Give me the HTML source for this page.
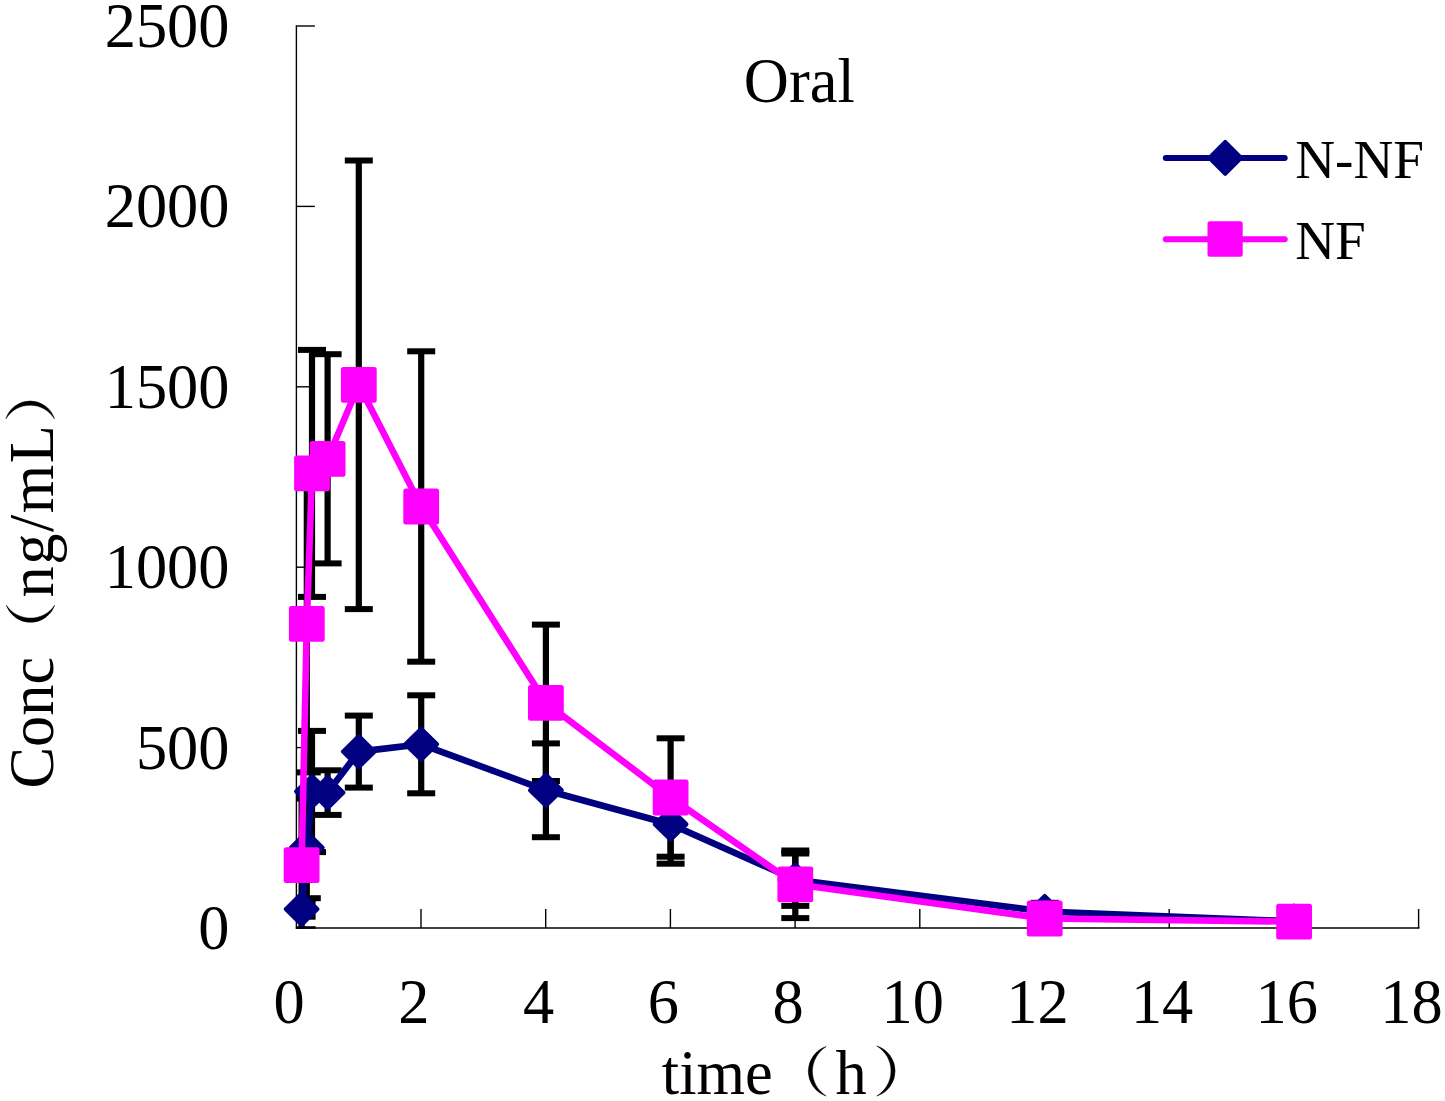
<!DOCTYPE html>
<html><head><meta charset="utf-8"><title>Oral</title>
<style>html,body{margin:0;padding:0;background:#fff;}body{width:1445px;height:1101px;overflow:hidden;}svg{display:block;}text{font-family:"Liberation Serif",serif;fill:#000;}</style>
</head><body>
<svg width="1445" height="1101" viewBox="0 0 1445 1101">
<rect width="1445" height="1101" fill="#fff"/>
<g stroke="#000" stroke-width="1.4" fill="none" shape-rendering="auto">
<line x1="296.4" y1="25.3" x2="296.4" y2="928.7"/>
<line x1="295.8" y1="928.0" x2="1419.5" y2="928.0"/>
<line x1="296.4" y1="747.6" x2="314.9" y2="747.6"/>
<line x1="296.4" y1="567.2" x2="314.9" y2="567.2"/>
<line x1="296.4" y1="386.8" x2="314.9" y2="386.8"/>
<line x1="296.4" y1="206.4" x2="314.9" y2="206.4"/>
<line x1="296.4" y1="26.0" x2="314.9" y2="26.0"/>
<line x1="421.0" y1="909.0" x2="421.0" y2="928.0"/>
<line x1="545.7" y1="909.0" x2="545.7" y2="928.0"/>
<line x1="670.4" y1="909.0" x2="670.4" y2="928.0"/>
<line x1="795.1" y1="909.0" x2="795.1" y2="928.0"/>
<line x1="919.8" y1="909.0" x2="919.8" y2="928.0"/>
<line x1="1044.5" y1="909.0" x2="1044.5" y2="928.0"/>
<line x1="1169.2" y1="909.0" x2="1169.2" y2="928.0"/>
<line x1="1293.9" y1="909.0" x2="1293.9" y2="928.0"/>
<line x1="1418.6" y1="909.0" x2="1418.6" y2="928.0"/>
</g>
<g font-size="62.4" text-anchor="end">
<text x="229.5" y="949.0">0</text>
<text x="229.5" y="768.6">500</text>
<text x="229.5" y="588.2">1000</text>
<text x="229.5" y="407.8">1500</text>
<text x="229.5" y="227.4">2000</text>
<text x="229.5" y="47.0">2500</text>
</g>
<g font-size="62.4" text-anchor="middle">
<text x="289.1" y="1023">0</text>
<text x="413.9" y="1023">2</text>
<text x="538.6" y="1023">4</text>
<text x="663.3" y="1023">6</text>
<text x="788.0" y="1023">8</text>
<text x="912.7" y="1023">10</text>
<text x="1037.4" y="1023">12</text>
<text x="1162.1" y="1023">14</text>
<text x="1286.8" y="1023">16</text>
<text x="1411.5" y="1023">18</text>
</g>
<clipPath id="pa"><rect x="296.45" y="10" width="1130" height="918.8"/></clipPath>
<g fill="#000" clip-path="url(#pa)">
<rect x="298.5" y="901.5" width="6.2" height="15.2"/>
<rect x="287.6" y="898.5" width="28.0" height="6.0"/>
<rect x="287.6" y="913.7" width="28.0" height="6.0"/>
<rect x="303.7" y="797.0" width="6.2" height="101.2"/>
<rect x="292.8" y="794.0" width="28.0" height="6.0"/>
<rect x="292.8" y="895.2" width="28.0" height="6.0"/>
<rect x="308.9" y="730.9" width="6.2" height="121.2"/>
<rect x="298.0" y="727.9" width="28.0" height="6.0"/>
<rect x="298.0" y="849.1" width="28.0" height="6.0"/>
<rect x="324.5" y="770.3" width="6.2" height="44.6"/>
<rect x="313.6" y="767.3" width="28.0" height="6.0"/>
<rect x="313.6" y="811.9" width="28.0" height="6.0"/>
<rect x="355.7" y="715.6" width="6.2" height="72.0"/>
<rect x="344.8" y="712.6" width="28.0" height="6.0"/>
<rect x="344.8" y="784.6" width="28.0" height="6.0"/>
<rect x="418.1" y="695.3" width="6.2" height="98.0"/>
<rect x="407.2" y="692.3" width="28.0" height="6.0"/>
<rect x="407.2" y="790.3" width="28.0" height="6.0"/>
<rect x="542.8" y="743.4" width="6.2" height="93.8"/>
<rect x="531.9" y="740.4" width="28.0" height="6.0"/>
<rect x="531.9" y="834.2" width="28.0" height="6.0"/>
<rect x="667.5" y="784.7" width="6.2" height="79.0"/>
<rect x="656.6" y="781.7" width="28.0" height="6.0"/>
<rect x="656.6" y="860.7" width="28.0" height="6.0"/>
<rect x="792.2" y="853.5" width="6.2" height="52.4"/>
<rect x="781.3" y="850.5" width="28.0" height="6.0"/>
<rect x="781.3" y="902.9" width="28.0" height="6.0"/>
<rect x="1041.6" y="902.8" width="6.2" height="17.4"/>
<rect x="1030.7" y="899.8" width="28.0" height="6.0"/>
<rect x="1030.7" y="917.2" width="28.0" height="6.0"/>
<rect x="1291.0" y="919.3" width="6.2" height="4.0"/>
<rect x="1280.1" y="916.3" width="28.0" height="6.0"/>
<rect x="1280.1" y="920.3" width="28.0" height="6.0"/>
<rect x="298.5" y="798.5" width="6.2" height="130.7"/>
<rect x="287.6" y="795.5" width="28.0" height="6.0"/>
<rect x="287.6" y="926.2" width="28.0" height="6.0"/>
<rect x="303.7" y="475.4" width="6.2" height="297.0"/>
<rect x="292.8" y="472.4" width="28.0" height="6.0"/>
<rect x="292.8" y="769.4" width="28.0" height="6.0"/>
<rect x="308.9" y="349.9" width="6.2" height="247.0"/>
<rect x="298.0" y="346.9" width="28.0" height="6.0"/>
<rect x="298.0" y="593.9" width="28.0" height="6.0"/>
<rect x="324.5" y="354.2" width="6.2" height="209.2"/>
<rect x="313.6" y="351.2" width="28.0" height="6.0"/>
<rect x="313.6" y="560.4" width="28.0" height="6.0"/>
<rect x="355.7" y="160.5" width="6.2" height="448.6"/>
<rect x="344.8" y="157.5" width="28.0" height="6.0"/>
<rect x="344.8" y="606.1" width="28.0" height="6.0"/>
<rect x="418.1" y="351.3" width="6.2" height="310.4"/>
<rect x="407.2" y="348.3" width="28.0" height="6.0"/>
<rect x="407.2" y="658.7" width="28.0" height="6.0"/>
<rect x="542.8" y="624.6" width="6.2" height="156.4"/>
<rect x="531.9" y="621.6" width="28.0" height="6.0"/>
<rect x="531.9" y="778.0" width="28.0" height="6.0"/>
<rect x="667.5" y="738.3" width="6.2" height="118.4"/>
<rect x="656.6" y="735.3" width="28.0" height="6.0"/>
<rect x="656.6" y="853.7" width="28.0" height="6.0"/>
<rect x="792.2" y="850.5" width="6.2" height="67.6"/>
<rect x="781.3" y="847.5" width="28.0" height="6.0"/>
<rect x="781.3" y="915.1" width="28.0" height="6.0"/>
<rect x="1041.6" y="915.5" width="6.2" height="6.0"/>
<rect x="1030.7" y="912.5" width="28.0" height="6.0"/>
<rect x="1030.7" y="918.5" width="28.0" height="6.0"/>
<rect x="1291.0" y="919.6" width="6.2" height="4.0"/>
<rect x="1280.1" y="916.6" width="28.0" height="6.0"/>
<rect x="1280.1" y="920.6" width="28.0" height="6.0"/>
</g>
<polyline points="301.6,909.1 306.8,847.6 312.0,791.5 327.6,792.6 358.8,751.6 421.2,744.3 545.9,790.3 670.6,824.2 795.3,879.7 1044.7,911.5 1294.1,921.3" fill="none" stroke="#000080" stroke-width="6.6" stroke-linejoin="round" stroke-linecap="round"/>
<path d="M301.6 893.5 L317.5 909.1 L301.6 924.7 L285.7 909.1Z" fill="#000080" stroke="#000080" stroke-width="4" stroke-linejoin="round"/>
<path d="M306.8 832.0 L322.7 847.6 L306.8 863.2 L290.9 847.6Z" fill="#000080" stroke="#000080" stroke-width="4" stroke-linejoin="round"/>
<path d="M312.0 775.9 L327.9 791.5 L312.0 807.1 L296.1 791.5Z" fill="#000080" stroke="#000080" stroke-width="4" stroke-linejoin="round"/>
<path d="M327.6 777.0 L343.5 792.6 L327.6 808.2 L311.7 792.6Z" fill="#000080" stroke="#000080" stroke-width="4" stroke-linejoin="round"/>
<path d="M358.8 736.0 L374.7 751.6 L358.8 767.2 L342.9 751.6Z" fill="#000080" stroke="#000080" stroke-width="4" stroke-linejoin="round"/>
<path d="M421.2 728.7 L437.1 744.3 L421.2 759.9 L405.3 744.3Z" fill="#000080" stroke="#000080" stroke-width="4" stroke-linejoin="round"/>
<path d="M545.9 774.7 L561.8 790.3 L545.9 805.9 L530.0 790.3Z" fill="#000080" stroke="#000080" stroke-width="4" stroke-linejoin="round"/>
<path d="M670.6 808.6 L686.5 824.2 L670.6 839.8 L654.7 824.2Z" fill="#000080" stroke="#000080" stroke-width="4" stroke-linejoin="round"/>
<path d="M795.3 864.1 L811.2 879.7 L795.3 895.3 L779.4 879.7Z" fill="#000080" stroke="#000080" stroke-width="4" stroke-linejoin="round"/>
<path d="M1044.7 895.9 L1060.6 911.5 L1044.7 927.1 L1028.8 911.5Z" fill="#000080" stroke="#000080" stroke-width="4" stroke-linejoin="round"/>
<path d="M1294.1 905.7 L1310.0 921.3 L1294.1 936.9 L1278.2 921.3Z" fill="#000080" stroke="#000080" stroke-width="4" stroke-linejoin="round"/>
<polyline points="301.6,865.2 306.8,623.9 312.0,473.4 327.6,458.8 358.8,384.8 421.2,506.5 545.9,702.8 670.6,797.5 795.3,884.3 1044.7,918.5 1294.1,921.6" fill="none" stroke="#FF00FF" stroke-width="6.6" stroke-linejoin="round" stroke-linecap="round"/>
<rect x="283.7" y="847.3" width="35.8" height="35.8" rx="2.5" ry="2.5" fill="#FF00FF"/>
<rect x="288.9" y="606.0" width="35.8" height="35.8" rx="2.5" ry="2.5" fill="#FF00FF"/>
<rect x="294.1" y="455.5" width="35.8" height="35.8" rx="2.5" ry="2.5" fill="#FF00FF"/>
<rect x="309.7" y="440.9" width="35.8" height="35.8" rx="2.5" ry="2.5" fill="#FF00FF"/>
<rect x="340.9" y="366.9" width="35.8" height="35.8" rx="2.5" ry="2.5" fill="#FF00FF"/>
<rect x="403.3" y="488.6" width="35.8" height="35.8" rx="2.5" ry="2.5" fill="#FF00FF"/>
<rect x="528.0" y="684.9" width="35.8" height="35.8" rx="2.5" ry="2.5" fill="#FF00FF"/>
<rect x="652.7" y="779.6" width="35.8" height="35.8" rx="2.5" ry="2.5" fill="#FF00FF"/>
<rect x="777.4" y="866.4" width="35.8" height="35.8" rx="2.5" ry="2.5" fill="#FF00FF"/>
<rect x="1026.8" y="900.6" width="35.8" height="35.8" rx="2.5" ry="2.5" fill="#FF00FF"/>
<rect x="1276.2" y="903.7" width="35.8" height="35.8" rx="2.5" ry="2.5" fill="#FF00FF"/>
<text x="799.3" y="102" font-size="62.4" text-anchor="middle">Oral</text>
<line x1="1165.8" y1="158" x2="1284.7" y2="158" stroke="#000080" stroke-width="6" stroke-linecap="round"/>
<path d="M1225.2 141.8 L1241.2 157.8 L1225.2 173.8 L1209.2 157.8Z" fill="#000080" stroke="#000080" stroke-width="4" stroke-linejoin="round"/>
<line x1="1165.8" y1="239.25" x2="1284.7" y2="239.25" stroke="#FF00FF" stroke-width="6" stroke-linecap="round"/>
<rect x="1207.5" y="221.3" width="35.2" height="35.4" rx="2.5" ry="2.5" fill="#FF00FF"/>
<text x="1295.2" y="178.3" font-size="55.2">N-NF</text>
<text x="1295.2" y="259.4" font-size="55.2">NF</text>
<text x="661.8" y="1094" font-size="62.4">time</text>
<text x="835.5" y="1094" font-size="62.4">h</text>
<path d="M826.20 1046.60 A25.99 25.99 0 0 0 826.20 1096.00 A29.00 29.00 0 0 1 826.20 1046.60 Z" fill="#000" stroke="#000" stroke-width="0.5" stroke-linejoin="round"/>
<path d="M876.80 1046.00 A26.23 26.23 0 0 1 876.80 1096.00 A29.11 29.11 0 0 0 876.80 1046.00 Z" fill="#000" stroke="#000" stroke-width="0.5" stroke-linejoin="round"/>
<g transform="translate(53.2,0) rotate(-90)">
<text x="-788.6" y="0" font-size="62.4">Conc</text>
<text x="-597.6" y="0" font-size="62.4" letter-spacing="1.55">ng/mL</text>
</g>
<path d="M6.30 605.30 A25.72 25.72 0 0 0 54.70 605.30 A29.28 29.28 0 0 1 6.30 605.30 Z" fill="#000" stroke="#000" stroke-width="0.5" stroke-linejoin="round"/>
<path d="M5.90 418.80 A25.42 25.42 0 0 1 54.40 418.80 A28.42 28.42 0 0 0 5.90 418.80 Z" fill="#000" stroke="#000" stroke-width="0.5" stroke-linejoin="round"/>
</svg></body></html>
